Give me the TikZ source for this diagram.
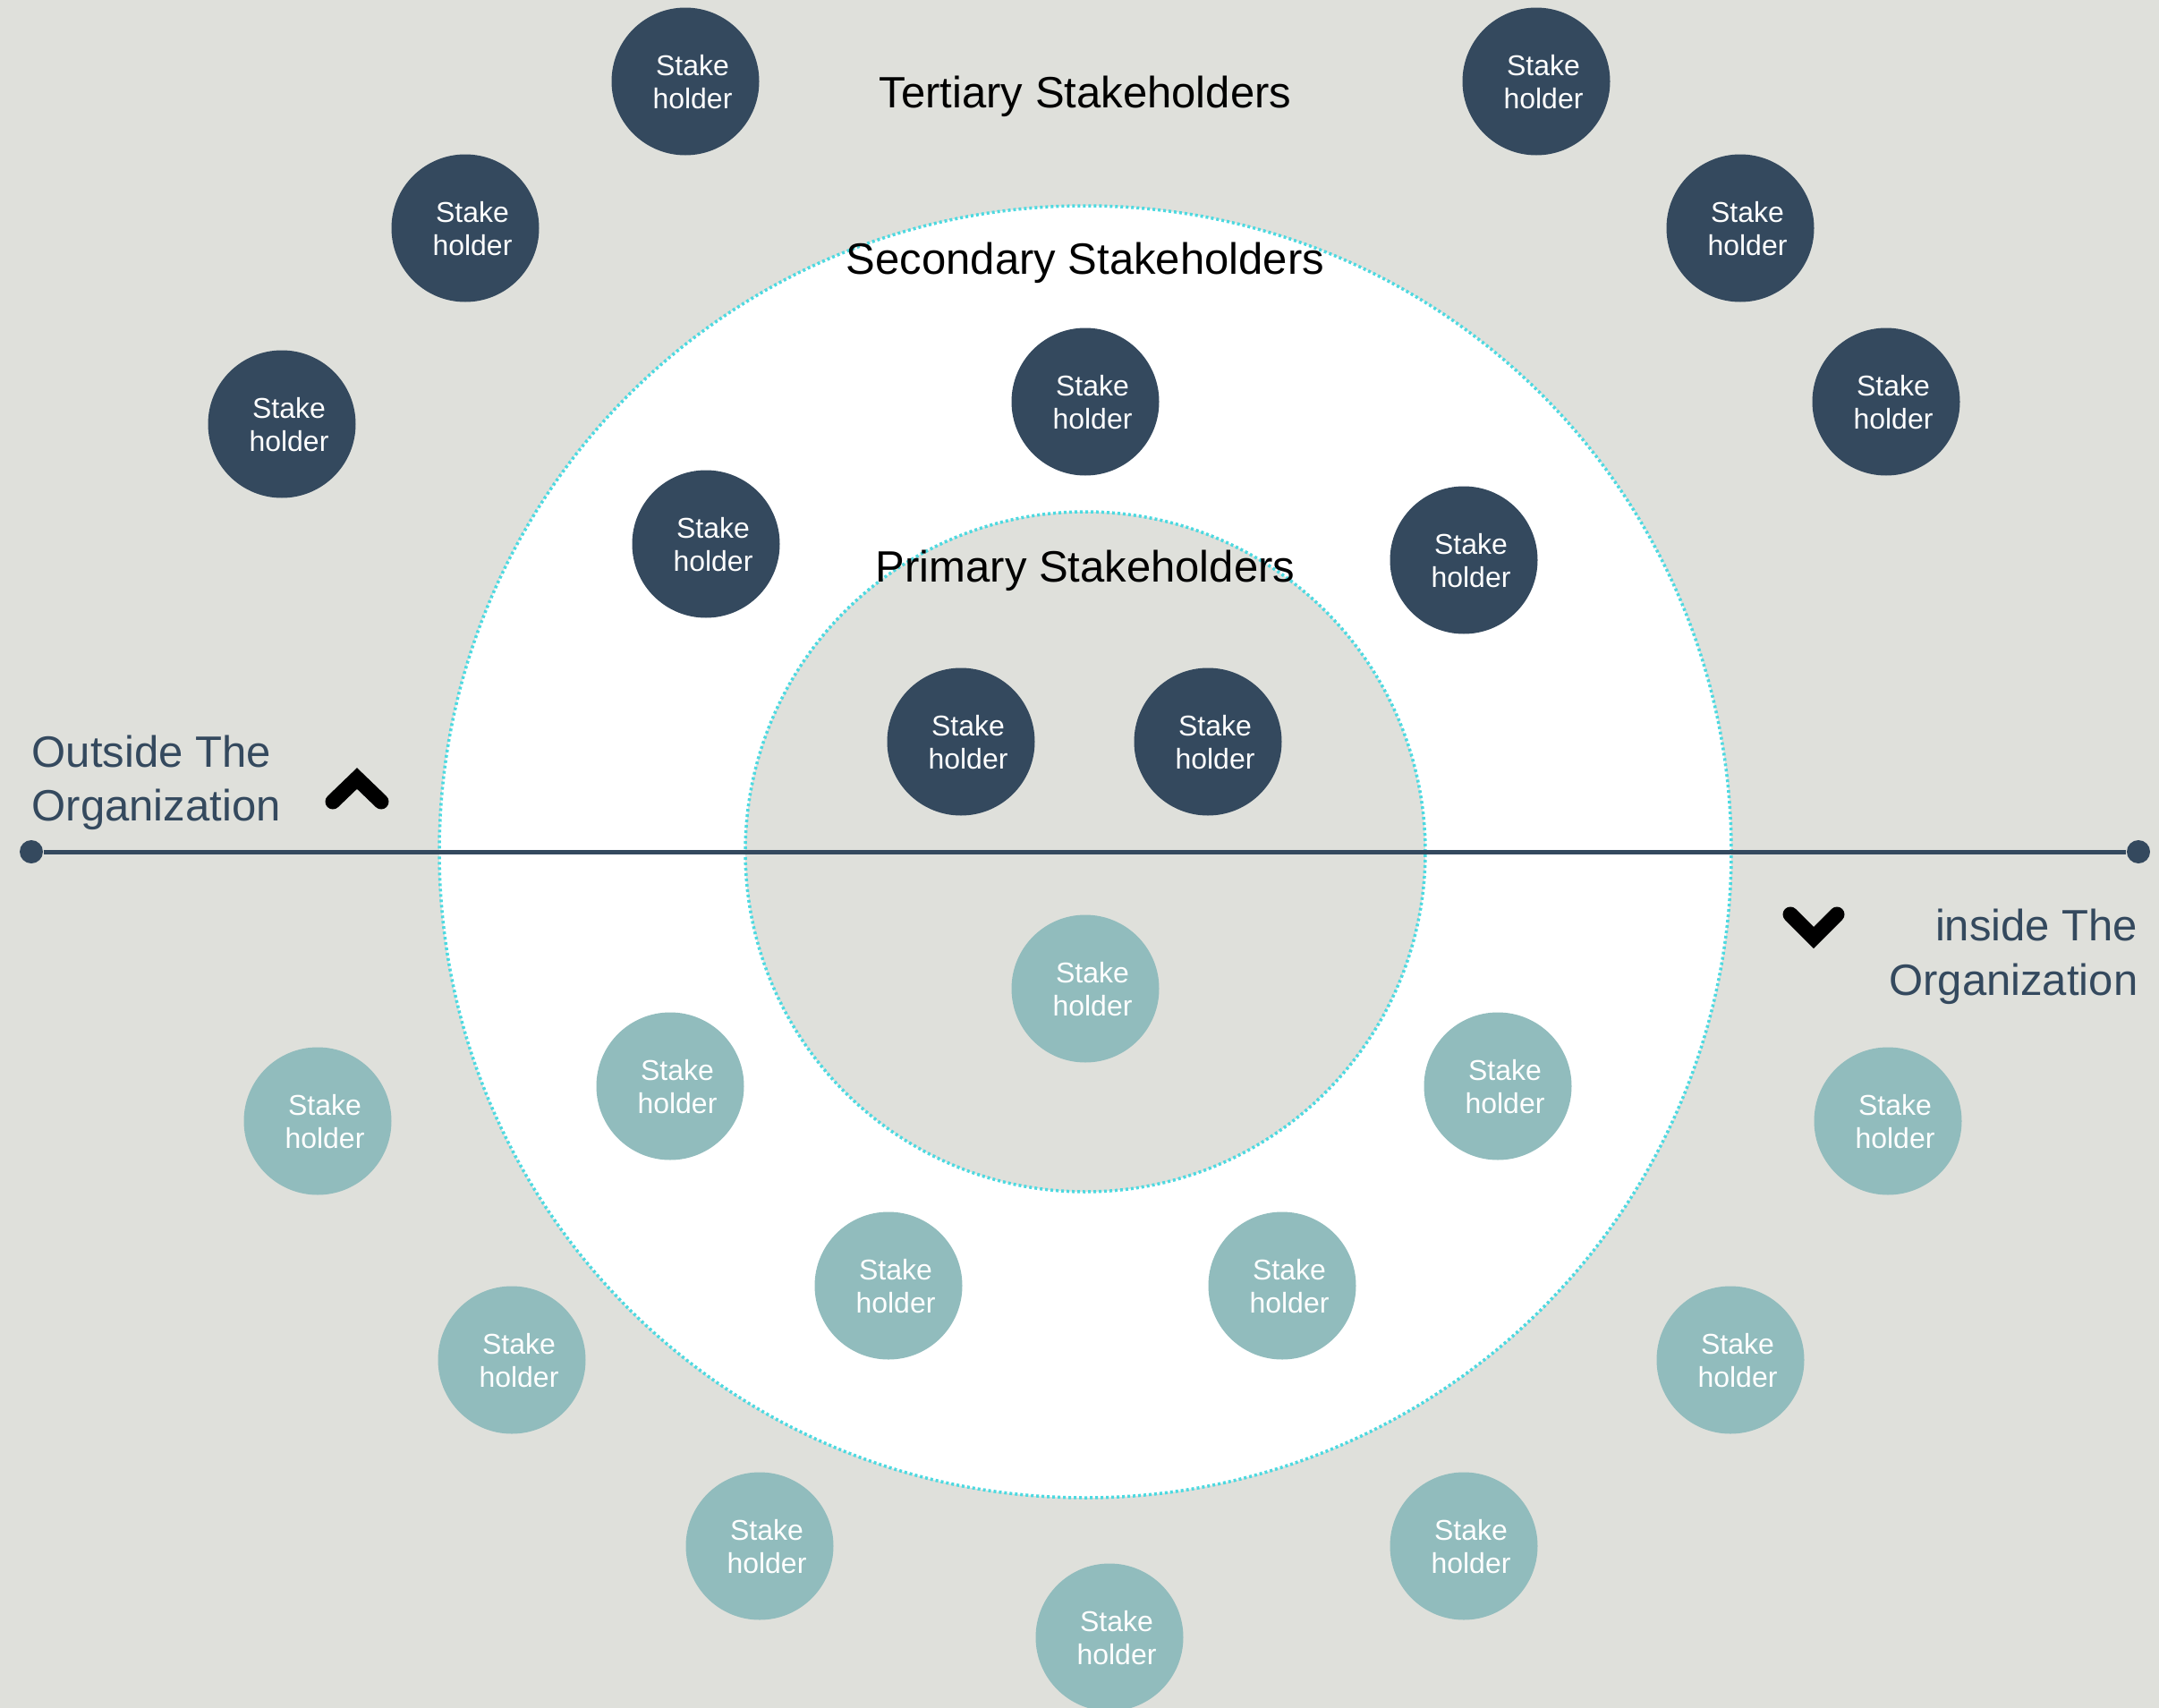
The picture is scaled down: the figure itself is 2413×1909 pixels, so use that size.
\documentclass[tikz,border=0pt]{standalone}
\usepackage{fontspec}
\setmainfont{Liberation Sans}
\definecolor{bgc}{RGB}{223,224,219}
\definecolor{dark}{RGB}{52,73,94}
\definecolor{light}{RGB}{145,188,189}
\definecolor{dotc}{RGB}{77,217,224}
\newcommand{\skh}{\hspace*{1.6mm}\raisebox{-0.45mm}[\height][\depth]{\begin{tabular}{@{}c@{}}Stake\\holder\end{tabular}}}
\begin{document}
\begin{tikzpicture}[x=0.1mm,y=-0.1mm,
  sh/.style={circle,minimum size=16.5mm,inner sep=0pt,text=white,
    font=\fontsize{9.1pt}{10.5pt}\selectfont},
  dk/.style={sh,fill=dark},
  lt/.style={sh,fill=light},
  head/.style={anchor=base,text=black,font=\fontsize{13.95pt}{17pt}\selectfont},
  side/.style={text=dark,inner sep=0pt,font=\fontsize{13.95pt}{17pt}\selectfont},
  ring/.style={draw=dotc,line width=0.35mm,dash pattern=on 0.3mm off 0.3mm},
  chev/.style={draw=black,line width=1.7mm,line cap=round,line join=miter},
  endpt/.style={circle,fill=dark,minimum size=2.6mm,inner sep=0pt}]
\useasboundingbox (0,0) rectangle (2413,1909);
\fill[bgc] (0,0) rectangle (2413,1909);
% rings
\coordinate (c) at (1213,952);
\fill[white] (c) circle[radius=72.2mm];
\draw[ring] (c) circle[radius=72.2mm];
\fill[bgc] (c) circle[radius=38mm];
\draw[ring] (c) circle[radius=38mm];
% axis
\node[endpt] (l) at (35,952) {};
\node[endpt] (r) at (2390,952) {};
\draw[dark,line width=0.5mm] (l) -- (r);
% headings
\node[head] (t3) at (1213,120) {Tertiary Stakeholders};
\node[head] (t2) at (1213,306) {Secondary Stakeholders};
\node[head] (t1) at (1213,650) {Primary Stakeholders};
% side labels
\node[side,anchor=base west] (o1) at (35,857) {Outside The};
\node[side,anchor=base west] (o2) at (35,917) {Organization};
\node[side,anchor=base east] (i1) at (2390,1051) {inside The};
\node[side,anchor=base east] (i2) at (2390,1112) {Organization};
% chevrons
\coordinate (u1) at (372,896); \coordinate (u2) at (399,870); \coordinate (u3) at (426,896);
\draw[chev] (u1) -- (u2) -- (u3);
\coordinate (d1) at (2001,1022); \coordinate (d2) at (2027,1048); \coordinate (d3) at (2053,1022);
\draw[chev] (d1) -- (d2) -- (d3);
% dark stakeholders
\node[dk] (s1) at (766,91) {\skh};
\node[dk] (s2) at (520,255) {\skh};
\node[dk] (s3) at (315,474) {\skh};
\node[dk] (s4) at (1717,91) {\skh};
\node[dk] (s5) at (1945,255) {\skh};
\node[dk] (s6) at (2108,449) {\skh};
\node[dk] (s7) at (1213,449) {\skh};
\node[dk] (s8) at (789,608) {\skh};
\node[dk] (s9) at (1636,626) {\skh};
\node[dk] (s10) at (1074,829) {\skh};
\node[dk] (s11) at (1350,829) {\skh};
% light stakeholders
\node[lt] (s12) at (1213,1105) {\skh};
\node[lt] (s13) at (749,1214) {\skh};
\node[lt] (s14) at (355,1253) {\skh};
\node[lt] (s15) at (1674,1214) {\skh};
\node[lt] (s16) at (2110,1253) {\skh};
\node[lt] (s17) at (993,1437) {\skh};
\node[lt] (s18) at (1433,1437) {\skh};
\node[lt] (s19) at (572,1520) {\skh};
\node[lt] (s20) at (1934,1520) {\skh};
\node[lt] (s21) at (849,1728) {\skh};
\node[lt] (s22) at (1636,1728) {\skh};
\node[lt] (s23) at (1240,1830) {\skh};
\end{tikzpicture}
\end{document}
